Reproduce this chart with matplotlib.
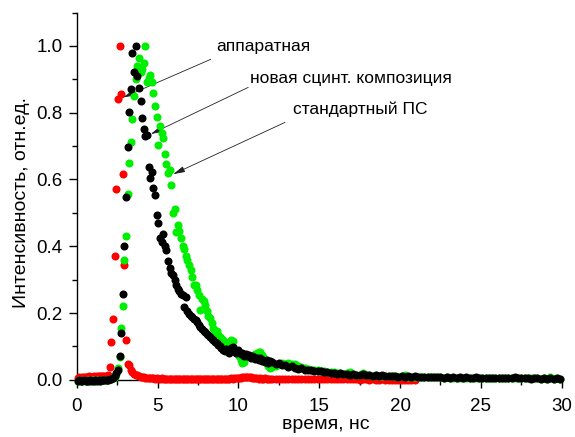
import numpy as np
import matplotlib.pyplot as plt
from matplotlib.ticker import MultipleLocator

plt.rcParams['font.family'] = ['Liberation Sans', 'DejaVu Sans']

# временная сетка: мелкий шаг до 12 нс, дальше шаг 0.2 нс
t_fine = np.arange(120) * 0.1 + 0.05
t_tail = np.arange(90) * 0.2 + 12.1
t_red_tail = t_tail[:45]

# аппаратная функция (красные)
red_fine = [0.006, 0.007, 0.006, 0.008, 0.007, 0.009, 0.008, 0.010, 0.009, 0.008,
            0.010, 0.009, 0.011, 0.010, 0.012, 0.011, 0.010, 0.012, 0.011, 0.014,
            0.037, 0.112, 0.183, 0.37, 0.572, 0.84, 1.0, 0.855, 0.617, 0.345,
            0.12, 0.046, 0.043, 0.03, 0.023, 0.018, 0.015, 0.013, 0.010, 0.009,
            0.008, 0.007, 0.006, 0.006, 0.005, 0.005, 0.004, 0.004, 0.003, 0.004,
            0.003, 0.003, 0.004, 0.003, 0.003, 0.002, 0.003, 0.003, 0.002, 0.003,
            0.002, 0.003, 0.002, 0.003, 0.002, 0.002, 0.003, 0.002, 0.002, 0.003,
            0.002, 0.003, 0.002, 0.002, 0.003, 0.002, 0.003, 0.002, 0.003, 0.003,
            0.003, 0.002, 0.003, 0.003, 0.002, 0.003, 0.003, 0.002, 0.003, 0.003,
            0.003, 0.003, 0.002, 0.003, 0.003, 0.004, 0.003, 0.004, 0.004, 0.005,
            0.005, 0.006, 0.007, 0.008, 0.009, 0.009, 0.008, 0.007, 0.006, 0.005,
            0.004, 0.004, 0.003, 0.004, 0.003, 0.003, 0.004, 0.003, 0.003, 0.003]
red_tail = [0.003, 0.003, 0.002, 0.003, 0.002, 0.003, 0.002, 0.002, 0.003, 0.002,
            0.002, 0.002, 0.003, 0.002, 0.002, 0.001, 0.002, 0.002, 0.001, 0.002,
            0.001, 0.002, 0.001, 0.001, 0.002, 0.001, 0.001, 0.000, 0.001, 0.001,
            0.000, 0.001, 0.000, 0.000, 0.001, 0.000, 0.000, -0.001, 0.000, 0.000,
            -0.001, 0.000, -0.001, -0.001, 0.000]

# стандартный ПС (зелёные)
green_fine = [-0.003, -0.002, -0.003, -0.003, -0.002, -0.003, -0.003, -0.002, -0.003, -0.002,
              -0.002, -0.003, -0.002, -0.002, -0.003, -0.002, -0.002, -0.001, -0.001, 0.0,
              0.001, 0.002, 0.004, 0.008, 0.016, 0.035, 0.068, 0.155, 0.222, 0.358,
              0.43, 0.556, 0.65, 0.713, 0.78, 0.85, 0.90, 0.94, 0.963, 0.923,
              0.93, 0.95, 1.0, 0.893, 0.905, 0.913, 0.893, 0.86, 0.82, 0.788,
              0.702, 0.76, 0.74, 0.723, 0.675, 0.645, 0.618, 0.628, 0.583, 0.50,
              0.513, 0.443, 0.465, 0.445, 0.426, 0.40, 0.393, 0.37, 0.358, 0.345,
              0.33, 0.308, 0.283, 0.285, 0.268, 0.255, 0.21, 0.243, 0.235, 0.223,
              0.205, 0.19, 0.185, 0.17, 0.155, 0.139, 0.145, 0.135, 0.128, 0.124,
              0.118, 0.112, 0.108, 0.104, 0.11, 0.12, 0.115, 0.09, 0.085, 0.08,
              0.07, 0.06, 0.05, 0.052, 0.07, 0.075, 0.072, 0.068, 0.07, 0.074,
              0.078, 0.08, 0.082, 0.083, 0.075, 0.068, 0.06, 0.05, 0.04, 0.035]
green_tail = [0.038, 0.042, 0.046, 0.050, 0.048, 0.050, 0.047, 0.046, 0.042, 0.038,
              0.034, 0.031, 0.029, 0.028, 0.029, 0.025, 0.026, 0.023, 0.022, 0.023,
              0.020, 0.019, 0.018, 0.019, 0.022, 0.016, 0.015, 0.014, 0.019, 0.013,
              0.014, 0.012, 0.013, 0.011, 0.012, 0.010, 0.011, 0.010, 0.011, 0.009,
              0.010, 0.014, 0.009, 0.008, 0.009, 0.008, 0.008, 0.007, 0.008, 0.007,
              0.007, 0.007, 0.007, 0.006, 0.007, 0.006, 0.006, 0.005, 0.006, 0.005,
              0.006, 0.005, 0.005, 0.006, 0.005, 0.005, 0.004, 0.005, 0.004, 0.005,
              0.004, 0.004, 0.005, 0.004, 0.004, 0.005, 0.004, 0.004, 0.004, 0.004,
              0.006, 0.004, 0.004, 0.003, 0.004, 0.003, 0.008, 0.003, 0.004, 0.003]

# новая сцинт. композиция (чёрные)
black_fine = [-0.003, -0.002, -0.004, -0.003, -0.002, -0.003, -0.004, -0.003, -0.002, -0.003,
              -0.003, -0.002, -0.003, -0.002, -0.003, -0.002, -0.001, -0.002, -0.001, 0.0,
              0.001, 0.002, 0.005, 0.01, 0.02, 0.03, 0.07, 0.139, 0.258, 0.40,
              0.548, 0.698, 0.803, 0.87, 0.978, 0.923, 1.0, 0.91, 0.873, 0.835,
              0.785, 0.751, 0.73, 0.733, 0.638, 0.603, 0.623, 0.575, 0.553, 0.495,
              0.47, 0.425, 0.413, 0.438, 0.40, 0.388, 0.355, 0.335, 0.32, 0.313,
              0.298, 0.285, 0.273, 0.265, 0.258, 0.253, 0.218, 0.248, 0.205, 0.198,
              0.19, 0.188, 0.182, 0.178, 0.172, 0.165, 0.158, 0.152, 0.147, 0.143,
              0.138, 0.133, 0.128, 0.122, 0.118, 0.114, 0.11, 0.104, 0.10, 0.095,
              0.09, 0.086, 0.092, 0.088, 0.08, 0.094, 0.098, 0.085, 0.079, 0.088,
              0.083, 0.076, 0.08, 0.072, 0.077, 0.07, 0.075, 0.066, 0.071, 0.068,
              0.062, 0.066, 0.058, 0.064, 0.056, 0.06, 0.053, 0.058, 0.05, 0.055]
black_tail = [0.052, 0.047, 0.049, 0.043, 0.044, 0.038, 0.040, 0.034, 0.033, 0.034,
              0.030, 0.028, 0.030, 0.026, 0.025, 0.026, 0.023, 0.022, 0.020, 0.021,
              0.018, 0.019, 0.017, 0.018, 0.015, 0.017, 0.015, 0.014, 0.016, 0.013,
              0.015, 0.012, 0.013, 0.011, 0.013, 0.011, 0.012, 0.010, 0.012, 0.009,
              0.011, 0.009, 0.010, 0.008, 0.010, 0.008, 0.009, 0.007, 0.009, 0.007,
              0.008, 0.007, 0.008, 0.006, 0.008, 0.006, 0.007, 0.006, 0.007, 0.005,
              0.007, 0.006, 0.005, 0.007, 0.005, 0.006, 0.005, 0.006, 0.004, 0.006,
              0.005, 0.004, 0.006, 0.004, 0.005, 0.007, 0.004, 0.005, 0.004, 0.005,
              0.003, 0.005, 0.004, 0.003, 0.005, 0.003, 0.004, 0.003, 0.004, 0.003]

fig = plt.figure(figsize=(5.75, 4.37), dpi=100)
ax = fig.add_axes([0.1334, 0.1309, 0.8435, 0.8403])

ms = 5.8
ax.plot(np.concatenate([t_fine, t_red_tail]), red_fine + red_tail, 'o', ms=ms,
        color='#ff0000', mec='none', clip_on=False, zorder=3)
ax.plot(np.concatenate([t_fine, t_tail]), green_fine + green_tail, 'o', ms=ms,
        color='#00ee00', mec='none', clip_on=False, zorder=4)
ax.plot(np.concatenate([t_fine, t_tail]), black_fine + black_tail, 'o', ms=ms,
        color='black', mec='none', clip_on=False, zorder=5)

ax.set_xlim(0, 30)
ax.set_ylim(0, 1.1)
ax.xaxis.set_major_locator(MultipleLocator(5))
ax.xaxis.set_minor_locator(MultipleLocator(2.5))
ax.set_yticks([0, 0.2, 0.4, 0.6, 0.8, 1.0])
ax.yaxis.set_minor_locator(MultipleLocator(0.1))
ax.yaxis.set_major_formatter(plt.FormatStrFormatter('%.1f'))
ax.spines['top'].set_visible(False)
ax.spines['right'].set_visible(False)
for s in ['left', 'bottom']:
    ax.spines[s].set_linewidth(1.0)
ax.tick_params(which='major', direction='out', length=6, width=1.0, labelsize=13.5, pad=4)
ax.tick_params(axis='x', which='major', pad=7)
ax.tick_params(which='minor', direction='out', length=3.5, width=1.0)

ax.set_xlabel('время, нс', fontsize=14)
ax.set_ylabel('Интенсивность, отн.ед.', fontsize=14)
ax.xaxis.set_label_coords(0.514, -0.099)
ax.yaxis.set_label_coords(-0.097, 0.484)

arr = dict(arrowstyle='-|>,head_length=0.7,head_width=0.18', lw=0.6, color='#222222',
           shrinkA=0, shrinkB=0)
ax.annotate('', xy=(2.88, 0.846), xytext=(8.29, 0.960), arrowprops=arr)
ax.annotate('', xy=(4.58, 0.736), xytext=(10.61, 0.876), arrowprops=arr)
ax.annotate('', xy=(5.97, 0.616), xytext=(12.88, 0.771), arrowprops=arr)
ax.text(8.61, 0.998, 'аппаратная', fontsize=12.5, va='center', ha='left')
ax.text(10.72, 0.903, 'новая сцинт. композиция', fontsize=12.5, va='center', ha='left')
ax.text(13.36, 0.811, 'стандартный ПС', fontsize=12.5, va='center', ha='left')

fig.savefig('out.png', dpi=100)
